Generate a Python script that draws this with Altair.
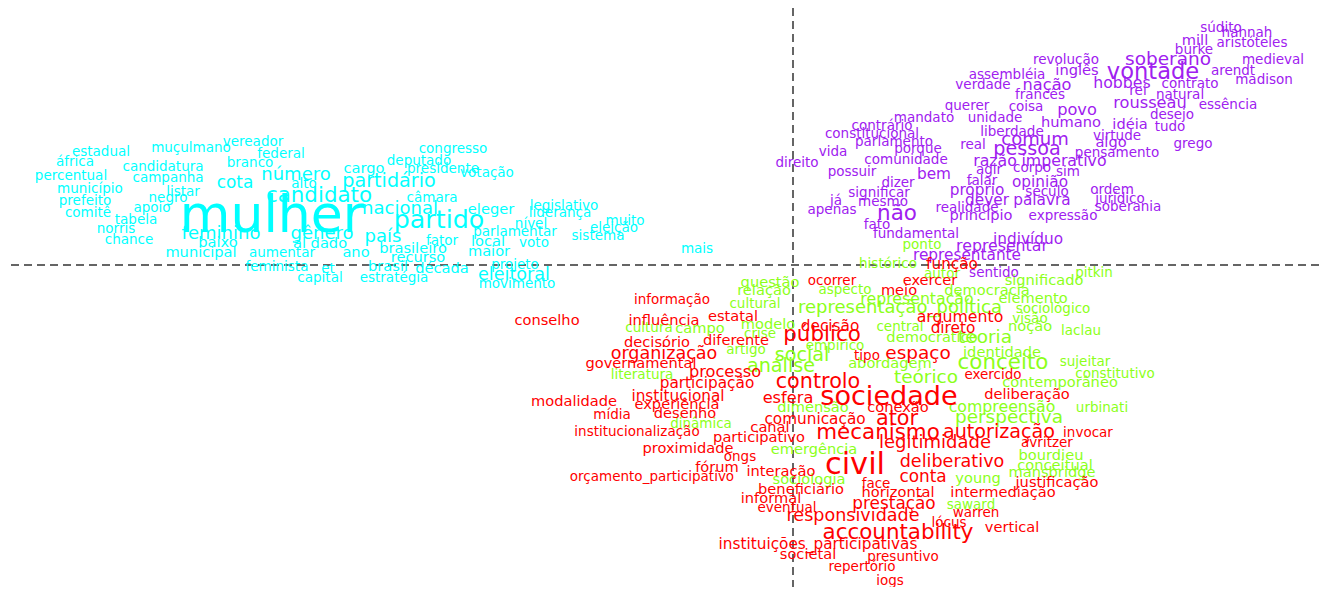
import altair as alt
import pandas as pd

# ---- Class 3 (cyan) ----
c3_words = ["vereador", "estadual", "muçulmano", "federal", "congresso", "áfrica", "deputado",
            "candidatura", "branco", "cargo", "presidente", "percentual", "campanha", "cota",
            "número", "alto", "partidário", "votação", "município", "listar", "candidato",
            "câmara", "prefeito", "negro", "legislativo", "comitê", "apoio", "nacional", "eleger",
            "liderança", "mulher", "tabela", "partido", "muito", "nível", "norris", "eleição",
            "parlamentar", "feminino", "gênero", "sistema", "país", "chance", "fator", "local",
            "voto", "baixo", "al dado", "brasileiro", "mais", "municipal", "aumentar", "ano",
            "maior", "recurso", "feminista", "et", "brasil", "década", "projeto", "eleitoral",
            "capital", "estratégia", "movimento"]
c3_dim1 = [-5.40, -6.92, -6.02, -5.12, -3.40, -7.18, -3.74,
           -6.30, -5.43, -4.29, -3.50, -7.22, -6.25, -5.58,
           -4.97, -4.89, -4.04, -3.06, -7.03, -6.10, -4.74,
           -3.61, -7.08, -6.25, -2.29, -7.05, -6.41, -3.93, -3.02,
           -2.33, -5.21, -6.57, -3.54, -1.68, -2.62, -6.77, -1.79,
           -2.78, -5.72, -4.71, -1.95, -4.10, -6.64, -3.51, -3.05,
           -2.59, -5.75, -4.73, -3.80, -0.96, -5.92, -5.11, -4.37,
           -3.04, -3.75, -5.16, -4.65, -4.05, -3.51, -2.78, -2.79,
           -4.73, -3.99, -2.76]
c3_dim2 = [1.23, 1.13, 1.17, 1.11, 1.16, 1.03, 1.04,
           0.98, 1.02, 0.96, 0.96, 0.89, 0.87, 0.82,
           0.90, 0.81, 0.84, 0.92, 0.76, 0.73, 0.69,
           0.67, 0.64, 0.67, 0.59, 0.52, 0.57, 0.56, 0.55,
           0.52, 0.49, 0.45, 0.45, 0.44, 0.41, 0.36, 0.37,
           0.33, 0.31, 0.31, 0.29, 0.28, 0.25, 0.24, 0.23,
           0.22, 0.22, 0.21, 0.16, 0.16, 0.12, 0.12, 0.12,
           0.13, 0.07, -0.02, -0.04, -0.02, -0.04, 0.00, -0.10,
           -0.13, -0.13, -0.19]
c3_freq = [20, 20, 20, 20, 20, 20, 20,
           20, 20, 25, 20, 20, 20, 35,
           40, 20, 45, 20, 20, 20, 55,
           20, 20, 20, 20, 20, 20, 40, 25,
           20, 190, 20, 72, 20, 20, 20, 20,
           20, 40, 40, 20, 40, 20, 20, 25,
           20, 25, 25, 25, 20, 25, 20, 25,
           25, 25, 20, 20, 25, 25, 20, 38,
           20, 20, 20]

# ---- Class 4 (purple) ----
c4_words = ["súdito", "hannah", "mill", "aristóteles", "burke", "revolução", "soberano", "medieval",
            "assembléia", "inglês", "vontade", "arendt", "verdade", "nação", "hobbes", "contrato",
            "madison", "rei", "natural", "francês", "querer", "coisa", "povo", "rousseau",
            "essência", "desejo", "mandato", "unidade", "contrário", "humano", "idéia", "tudo",
            "constitucional", "liberdade", "virtude", "parlamento", "comum", "real", "algo",
            "grego", "vida", "porque", "pessoa", "pensamento", "direito", "comunidade", "razão",
            "imperativo", "possuir", "bem", "agir", "corpo", "sim", "falar", "opinião", "dizer",
            "significar", "próprio", "século", "ordem", "já", "mesmo", "dever", "palavra",
            "jurídico", "apenas", "realidade", "soberania", "não", "princípio", "expressão",
            "fato", "fundamental", "indivíduo", "representar", "representante", "sentido"]
c4_dim1 = [4.28, 4.54, 4.02, 4.59, 4.01, 2.73, 3.75, 4.80,
           2.14, 2.84, 3.60, 4.40, 1.90, 2.54, 3.29, 3.97,
           4.71, 3.45, 3.87, 2.47, 1.74, 2.33, 2.84, 3.57,
           4.35, 3.79, 1.31, 2.02, 0.89, 2.78, 3.37, 3.77,
           0.79, 2.19, 3.24, 1.01, 2.42, 1.80, 3.18,
           4.00, 0.40, 1.25, 2.34, 3.24, 0.04, 1.13, 2.02,
           2.71, 0.59, 1.41, 1.96, 2.39, 2.75, 1.89, 2.47, 1.05,
           0.86, 1.84, 2.54, 3.19, 0.43, 0.90, 1.94, 2.49,
           3.27, 0.39, 1.74, 3.35, 1.04, 1.88, 2.70,
           0.84, 1.23, 2.35, 2.09, 1.74, 2.01]
c4_dim2 = [2.37, 2.32, 2.24, 2.22, 2.15, 2.05, 2.06, 2.05,
           1.90, 1.94, 1.93, 1.94, 1.80, 1.80, 1.82, 1.81,
           1.85, 1.74, 1.70, 1.70, 1.59, 1.58, 1.55, 1.62,
           1.60, 1.50, 1.47, 1.47, 1.39, 1.42, 1.40, 1.38,
           1.31, 1.33, 1.29, 1.23, 1.25, 1.20, 1.22,
           1.21, 1.13, 1.16, 1.16, 1.12, 1.02, 1.05, 1.04,
           1.04, 0.93, 0.91, 0.95, 0.97, 0.93, 0.84, 0.83, 0.82,
           0.72, 0.75, 0.73, 0.75, 0.64, 0.63, 0.65, 0.65,
           0.66, 0.55, 0.57, 0.58, 0.51, 0.49, 0.49,
           0.40, 0.31, 0.26, 0.19, 0.10, -0.08]
c4_freq = [20, 20, 25, 20, 20, 20, 42, 20,
           20, 25, 60, 20, 20, 32, 30, 20,
           20, 20, 20, 20, 20, 20, 32, 32,
           20, 20, 20, 20, 20, 25, 25, 20,
           20, 20, 20, 20, 40, 20, 25,
           20, 20, 20, 45, 20, 20, 20, 30,
           30, 20, 28, 20, 20, 20, 20, 28, 20,
           20, 28, 20, 20, 20, 20, 28, 28,
           20, 20, 20, 20, 55, 25, 20,
           20, 20, 28, 30, 28, 20]

# ---- Class 2 (green) ----
c2_words = ["ponto", "histórico", "autor", "pitkin", "significado", "questão", "relação", "aspecto",
            "democracia", "cultural", "representação", "elemento", "representação_política",
            "sociológico", "visão", "cultura", "campo", "modelo", "central", "noção", "laclau",
            "crise", "democrático", "teoria", "empírico", "artigo", "social", "identidade",
            "sujeitar", "abordagem", "conceito", "análise", "literatura", "teórico",
            "constitutivo", "contemporâneo", "dimensão", "compreensão", "urbinati",
            "perspectiva", "dinâmica", "emergência", "bourdieu", "conceitual", "mansbridge",
            "young", "sociologia", "saward"]
c2_dim1 = [1.29, 0.95, 1.49, 3.01, 2.51, -0.23, -0.29, 0.52,
           1.94, -0.38, 1.24, 2.40, 1.07,
           2.60, 2.37, -1.44, -0.93, -0.25, 1.07, 2.37, 2.88,
           -0.33, 1.39, 1.92, 0.42, -0.47, 0.09, 2.09,
           2.92, 0.97, 2.10, -0.12, -1.51, 1.33,
           3.22, 2.67, 0.20, 2.09, 3.09,
           2.16, -0.92, 0.21, 2.58, 2.62, 2.59,
           1.85, 0.16, 1.78]
c2_dim2 = [0.20, 0.01, -0.09, -0.08, -0.16, -0.18, -0.26, -0.25,
           -0.26, -0.39, -0.34, -0.34, -0.43,
           -0.44, -0.54, -0.63, -0.64, -0.60, -0.62, -0.62, -0.66,
           -0.69, -0.73, -0.72, -0.81, -0.85, -0.90, -0.88,
           -0.97, -0.99, -0.98, -1.01, -1.10, -1.12,
           -1.09, -1.18, -1.43, -1.42, -1.43,
           -1.52, -1.59, -1.85, -1.91, -2.01, -2.08,
           -2.14, -2.15, -2.40]
c2_freq = [20, 20, 20, 20, 25, 25, 25, 20,
           25, 20, 30, 25, 40,
           20, 20, 20, 25, 25, 20, 25, 20,
           20, 25, 42, 20, 20, 45, 25,
           20, 25, 55, 45, 20, 42,
           20, 25, 25, 30, 20,
           42, 20, 25, 25, 25, 25,
           25, 25, 20]

# ---- Class 1 (red) ----
c1_words = ["função", "ocorrer", "exercer", "meio", "informação", "argumento", "estatal", "conselho",
            "influência", "decisão", "direto", "público", "diferente", "decisório", "espaço",
            "organização", "tipo", "governamental", "processo", "exercido", "participação",
            "controlo", "deliberação", "institucional", "sociedade", "esfera", "modalidade",
            "experiência", "conexão", "desenho", "mídia", "comunicação", "ator", "canal",
            "institucionalização", "autorização", "mecanismo", "invocar", "participativo",
            "legitimidade", "avritzer", "proximidade", "ongs", "civil", "deliberativo", "fórum",
            "interação", "conta", "orçamento_participativo", "justificação", "face",
            "beneficiário", "horizontal", "intermediação", "informal", "prestação", "eventual",
            "warren", "responsividade", "lócus", "vertical", "accountability",
            "instituições_participativas", "societal", "presuntivo", "repertório", "iogs"]
c1_dim1 = [1.59, 0.39, 1.37, 1.06, -1.21, 1.67, -0.60, -2.46,
           -1.29, 0.37, 1.60, 0.29, -0.57, -1.36, 1.25,
           -1.29, 0.74, -1.52, -0.68, 2.00, -0.86,
           0.25, 2.34, -1.15, 0.96, -0.05, -2.19,
           -1.16, 1.05, -1.08, -1.81, 0.22, 1.04, -0.23,
           -1.56, 2.06, 0.85, 2.95, -0.34,
           1.42, 2.54, -1.05, -0.53, 0.62, 1.59, -0.76,
           -0.12, 1.30, -1.41, 2.64, 0.83,
           0.08, 1.05, 2.10, -0.22, 1.01, -0.06,
           1.83, 0.60, 1.56, 2.19, 1.05,
           0.25, 0.15, 1.10, 0.69, 0.97]
c1_dim2 = [0.01, -0.16, -0.16, -0.26, -0.35, -0.52, -0.52, -0.56,
           -0.56, -0.61, -0.63, -0.70, -0.76, -0.78, -0.88,
           -0.89, -0.91, -0.99, -1.07, -1.10, -1.18,
           -1.17, -1.30, -1.31, -1.32, -1.33, -1.37,
           -1.40, -1.43, -1.49, -1.50, -1.54, -1.54, -1.63,
           -1.67, -1.67, -1.68, -1.68, -1.73,
           -1.78, -1.78, -1.84, -1.92, -2.00, -1.97, -2.03,
           -2.07, -2.12, -2.12, -2.18, -2.19,
           -2.25, -2.28, -2.28, -2.34, -2.39, -2.43,
           -2.48, -2.51, -2.58, -2.63, -2.68,
           -2.79, -2.90, -2.92, -3.02, -3.16]
c1_freq = [28, 20, 25, 25, 20, 30, 25, 25,
           25, 28, 28, 55, 25, 25, 42,
           38, 20, 25, 32, 20, 28,
           52, 25, 28, 80, 32, 25,
           25, 25, 25, 20, 28, 52, 25,
           20, 45, 55, 20, 25,
           40, 20, 25, 20, 95, 38, 25,
           25, 35, 20, 25, 20,
           25, 25, 25, 25, 35, 20,
           20, 38, 20, 25, 55,
           28, 25, 20, 20, 20]

class_names = ["Classe 3", "Classe 4", "Classe 2", "Classe 1"]
class_colors = ["#00FFFF", "#A020F0", "#8CFF1A", "#FF0000"]

frames = []
for name, w, x, y, f in [
    ("Classe 3", c3_words, c3_dim1, c3_dim2, c3_freq),
    ("Classe 4", c4_words, c4_dim1, c4_dim2, c4_freq),
    ("Classe 2", c2_words, c2_dim1, c2_dim2, c2_freq),
    ("Classe 1", c1_words, c1_dim1, c1_dim2, c1_freq),
]:
    frames.append(pd.DataFrame({"word": w, "dim1": x, "dim2": y, "freq": f, "classe": name}))
df = pd.concat(frames, ignore_index=True)
df["order"] = range(len(df))

x_scale = alt.Scale(domain=[-7.85, 5.26], nice=False, zero=False)
y_scale = alt.Scale(domain=[-3.22, 2.57], nice=False, zero=False)

words = alt.Chart(df).mark_text(
    font="DejaVu Sans", align="center", baseline="middle"
).encode(
    x=alt.X("dim1:Q", scale=x_scale, axis=None),
    y=alt.Y("dim2:Q", scale=y_scale, axis=None),
    text="word:N",
    size=alt.Size("freq:Q", scale=alt.Scale(domain=[20, 190], range=[13.5, 52], zero=False), legend=None),
    color=alt.Color("classe:N", scale=alt.Scale(domain=class_names, range=class_colors), legend=None),
    order="order:Q",
)

vline = alt.Chart(pd.DataFrame({"x": [0.0]})).mark_rule(
    color="#333333", strokeDash=[8, 5], strokeWidth=1.5
).encode(x=alt.X("x:Q", scale=x_scale, axis=None))

hline = alt.Chart(pd.DataFrame({"y": [0.0]})).mark_rule(
    color="#333333", strokeDash=[8, 5], strokeWidth=1.5
).encode(y=alt.Y("y:Q", scale=y_scale, axis=None))

chart = alt.layer(vline, hline, words).properties(
    width=1311, height=579,
    autosize=alt.AutoSizeParams(type="none"),
    padding=0,
).configure_view(stroke=None)

chart.save("out.html", embed_options={"renderer": "svg", "actions": False})
